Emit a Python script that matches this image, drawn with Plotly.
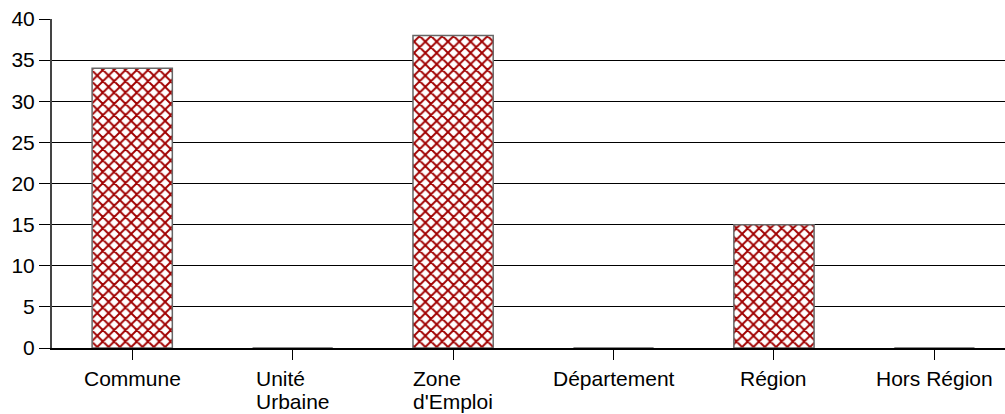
import plotly.graph_objects as go

categories = ["Commune", "Unité<br>Urbaine", "Zone<br>d'Emploi", "Département", "Région", "Hors Région"]
values = [34, 0, 38, 0, 15, 0]
y_ticks = [0, 5, 10, 15, 20, 25, 30, 35, 40]

FONT = "Arial, 'Liberation Sans', sans-serif"
LABEL_SIZE = 21
LINE_GAP = 23  # pixels between baselines of wrapped category labels

fig = go.Figure(
    go.Bar(
        x=list(range(len(categories))),
        y=values,
        width=0.5,
        marker=dict(
            color="white",
            line=dict(color="#666666", width=1.5),
            pattern=dict(shape="x", fgcolor="#a00000", fgopacity=1, bgcolor="white",
                         size=8, solidity=0.42),
        ),
    )
)

# Category labels: left-aligned lines, block centred under each category
for i, label in enumerate(categories):
    lines = [f'<span style="font-size:{LABEL_SIZE}px">{t}</span>' for t in label.split("<br>")]
    fig.add_annotation(
        x=i,
        y=0,
        xref="x",
        yref="paper",
        xanchor="center",
        yanchor="top",
        yshift=-18,
        align="left",
        showarrow=False,
        borderpad=0,
        text="<br>".join(lines),
        font=dict(family=FONT, size=LINE_GAP / 1.3, color="black"),
    )

fig.update_layout(
    width=1005,
    height=414,
    margin=dict(l=52, r=0, t=19, b=66),
    paper_bgcolor="white",
    plot_bgcolor="white",
    showlegend=False,
    font=dict(family=FONT, size=LABEL_SIZE, color="black"),
)

fig.update_xaxes(
    range=[-0.5, 5.44],
    tickmode="array",
    tickvals=list(range(len(categories))),
    ticktext=categories,
    showticklabels=False,
    tickson="boundaries",
    ticks="outside",
    ticklen=10,
    tickcolor="black",
    tickwidth=1,
    showgrid=False,
    showline=True,
    linecolor="black",
    linewidth=2,
    zeroline=False,
)

fig.update_yaxes(
    range=[0, 40],
    tickmode="array",
    tickvals=y_ticks,
    ticks="outside",
    ticklen=11,
    tickcolor="black",
    showgrid=True,
    gridcolor="black",
    gridwidth=1,
    showline=True,
    linecolor="#444444",
    linewidth=2,
    zeroline=False,
    tickfont=dict(family=FONT, size=LABEL_SIZE, color="black"),
)

fig.write_html("out.html")
